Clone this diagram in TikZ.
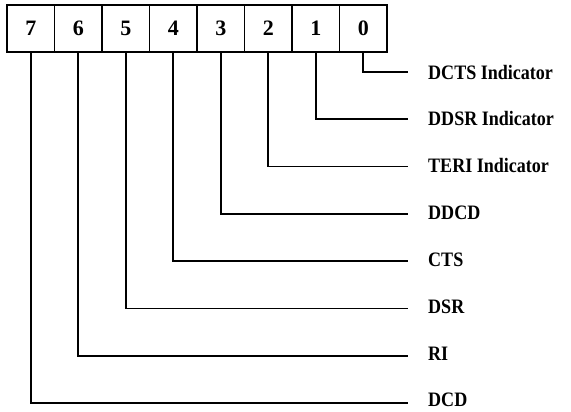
\documentclass[tikz,border=0pt]{standalone}
\usepackage{fontspec}
\setmainfont{Liberation Serif}
\newfontfamily\lblfont{Liberation Serif}[FakeStretch=0.88]
\begin{document}
\begin{tikzpicture}[x=1pt,y=-1pt,
  cell/.style={draw,line width=1.5pt,minimum width=47.5pt,minimum height=47pt,inner sep=0pt,font=\fontsize{22}{22}\selectfont\bfseries},
  lbl/.style={anchor=west,inner sep=0pt,font=\lblfont\fontsize{20.5}{21}\selectfont\bfseries},
  wire/.style={line width=1.6pt}]
\useasboundingbox (0,0) rectangle (571,412);
\foreach \b [count=\i from 0] in {7,6,5,4,3,2,1,0}{
  \node[cell] (c\b) at ({7+23.75+47.5*\i},28.5) {\b};
}
\foreach \b/\t [count=\k from 0] in {0/DCTS Indicator,1/DDSR Indicator,2/TERI Indicator,3/DDCD,4/CTS,5/DSR,6/RI,7/DCD}{
  \node[lbl] (l\b) at (428,{72+47.3*\k-0.4*\k}) {\t};
  \coordinate (e\b) at (408,{72+47.3*\k});
  \draw[wire] (c\b.south) |- (e\b);
}
\end{tikzpicture}
\end{document}
